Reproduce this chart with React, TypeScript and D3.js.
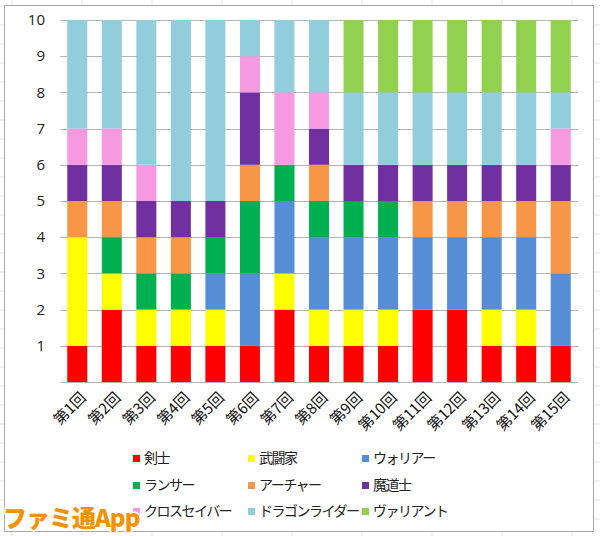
import React from "react";
import * as d3 from "d3";

const categories = ["第1回","第2回","第3回","第4回","第5回","第6回","第7回","第8回","第9回","第10回","第11回","第12回","第13回","第14回","第15回"];
const seriesNames = ["剣士","武闘家","ウォリアー","ランサー","アーチャー","魔道士","クロスセイバー","ドラゴンライダー","ヴァリアント"];
const kenshi =      [1,2,1,1,1,1,2,1,1,1,2,2,1,1,1];
const butouka =     [3,1,1,1,1,0,1,1,1,1,0,0,1,1,0];
const warrior =     [0,0,0,0,1,2,2,2,2,2,2,2,2,2,2];
const lancer =      [0,1,1,1,1,2,1,1,1,1,0,0,0,0,0];
const archer =      [1,1,1,1,0,1,0,1,0,0,1,1,1,1,2];
const madoushi =    [1,1,1,1,1,2,0,1,1,1,1,1,1,1,1];
const crossSaber =  [1,1,1,0,0,1,2,1,0,0,0,0,0,0,1];
const dragonRider = [3,3,4,5,5,1,2,2,2,2,2,2,2,2,1];
const valiant =     [0,0,0,0,0,0,0,0,2,2,2,2,2,2,2];
const yTicks = [1,2,3,4,5,6,7,8,9,10];
const colors = ["#ff0000","#ffff00","#558ed5","#00b050","#f79646","#7030a0","#f59ae0","#92cddc","#92d050"];

const seriesValues = [kenshi,butouka,warrior,lancer,archer,madoushi,crossSaber,dragonRider,valiant];

export default function App() {
  const W = 600, H = 536;
  const left = 60, right = 578, top = 20, bottom = 382;
  const rows = categories.map((c, i) => {
    const r: any = { cat: c };
    seriesNames.forEach((s, k) => (r[s] = seriesValues[k][i]));
    return r;
  });
  const stacked = d3.stack<any>().keys(seriesNames)(rows);
  const x = d3.scaleBand().domain(categories).range([left, right]).paddingInner(0.42).paddingOuter(0.21);
  const y = d3.scaleLinear().domain([0, 10]).range([bottom, top]);

  const sheetV = d3.range(12, 600, 70);
  const sheetH = d3.range(6, 536, 19);

  const legendCols = [137, 252, 366];
  const legendRows = [458, 485, 511];
  const font = "'Noto Sans CJK JP', 'Noto Sans', sans-serif";

  return (
    <svg width={W} height={H} style={{ position: "absolute", left: 0, top: 0, background: "#fff" }}>
      {sheetV.map((v) => <line key={"v" + v} x1={v} x2={v} y1={0} y2={H} stroke="#e3e3e3" strokeWidth={1} />)}
      {sheetH.map((h) => <line key={"h" + h} x1={0} x2={W} y1={h} y2={h} stroke="#e3e3e3" strokeWidth={1} />)}
      <rect x={4.5} y={5.5} width={589} height={526} fill="#fff" stroke="#a6a6a6" strokeWidth={1} />
      {[0, ...yTicks].map((t) => (
        <line key={"g" + t} x1={left} x2={right} y1={Math.round(y(t)) + 0.5} y2={Math.round(y(t)) + 0.5} stroke="#b3b3b3" strokeWidth={1} />
      ))}
      {yTicks.map((t) => (
        <text key={"yt" + t} x={45} y={y(t)} dy="0.35em" textAnchor="end" fontFamily="'Open Sans', sans-serif" fontSize={15} fill="#222">{t}</text>
      ))}
      {stacked.map((s, k) => (
        <g key={s.key} fill={colors[k]}>
          {s.map((d, i) => d[1] - d[0] > 0 ? (
            <rect key={i} x={x(categories[i])!} width={x.bandwidth()} y={y(d[1])} height={y(d[0]) - y(d[1])} />
          ) : null)}
        </g>
      ))}
      {categories.map((c) => {
        const cx = x(c)! + x.bandwidth() / 2 + 6;
        const cy = 395;
        return (
          <text key={"xl" + c} transform={`translate(${cx},${cy}) rotate(-45)`} textAnchor="end" dy="0.35em" fontFamily={font} fontSize={15} fill="#111">{c}</text>
        );
      })}
      {seriesNames.map((s, k) => {
        const lx = legendCols[k % 3];
        const ly = legendRows[Math.floor(k / 3)];
        return (
          <g key={"lg" + s}>
            <rect x={lx - 4} y={ly - 3} width={7} height={7} fill={colors[k]} />
            <text x={lx + 7} y={ly} dy="0.35em" fontFamily={font} fontSize={14} letterSpacing={-1.5} fill="#222">{s}</text>
          </g>
        );
      })}
      <text x={3} y={527} fontFamily="'Noto Sans CJK JP', sans-serif" fontWeight="900" fontSize={24} fill="#f39200" stroke="#fff" strokeWidth={3} paintOrder="stroke" letterSpacing={-1}>ファミ通App</text>
    </svg>
  );
}
